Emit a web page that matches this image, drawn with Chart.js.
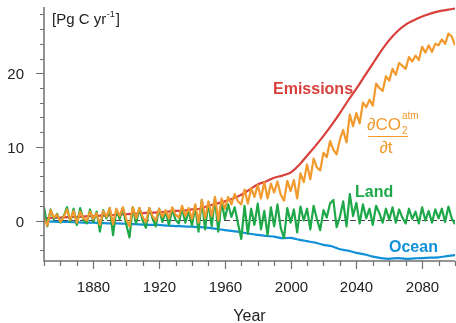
<!DOCTYPE html>
<html>
<head>
<meta charset="utf-8">
<script src="https://cdn.jsdelivr.net/npm/chart.js@4.4.1/dist/chart.umd.min.js"></script>
<style>
  body { margin: 0; background: #fff; }
  canvas { display: block; }
</style>
</head>
<body>
<canvas id="myChart" width="456" height="323"></canvas>
<script>
// Yearly grids: noisy series every 2 years, smooth series every 5 years
var years2 = [];
for (var y = 1850; y <= 2100; y += 2) years2.push(y);
var years5 = [];
for (var y5 = 1850; y5 <= 2100; y5 += 5) years5.push(y5);

// Fossil + land-use emissions [Pg C/yr]
var emissions = [
  0.3, 0.35, 0.4, 0.45, 0.5, 0.55, 0.6, 0.65, 0.7, 0.8,
  0.85, 0.95, 1.0, 1.05, 1.1, 1.2, 1.3, 1.35, 1.5, 1.6,
  2.0, 2.3, 2.6, 3.0, 3.5, 4.2, 4.9, 5.3, 5.8, 6.1,
  6.5, 7.5, 8.8, 10.1, 11.5, 13.0, 14.6, 16.3, 17.9, 19.6,
  21.3, 23.0, 24.5, 25.7, 26.6, 27.2, 27.7, 28.1, 28.4, 28.6, 28.8
];

// Ocean flux
var ocean = [
  -0.1, -0.15, -0.2, -0.2, -0.25, -0.3, -0.3, -0.35, -0.4, -0.4,
  -0.45, -0.5, -0.55, -0.6, -0.6, -0.7, -0.75, -0.8, -0.85, -0.9,
  -1.0, -1.15, -1.3, -1.45, -1.6, -1.8, -1.95, -2.1, -2.2, -2.4,
  -2.35, -2.6, -2.8, -3.0, -3.3, -3.5, -3.9, -4.1, -4.4, -4.6,
  -4.9, -5.1, -5.2, -5.1, -5.2, -5.15, -5.1, -5.05, -5.0, -4.85, -4.7
];

// Land flux
var land = [
  1.8, -0.8, 1.5, 0.2, 0.9,
  -0.3, 0.6, 1.8, -0.2, 1.6,
  -0.6, 1.7, 0.1, -0.4, 1.5,
  -0.2, 1.2, -1.5, 1.4, 0.3,
  1.7, -2.0, 1.5, 0.2, 1.7,
  -0.5, -2.3, 1.8, -0.4, 1.7,
  0.0, -1.0, 1.7, 0.3, -0.8,
  1.6, -0.2, 1.2, -0.6, 1.5,
  0.1, -0.4, 1.7, -0.3, 1.3,
  -0.7, 1.9, -1.5, 2.8, -1.2,
  2.5, -0.8, 3.0, -1.5, 2.6,
  0.2, 2.2, 0.5, 1.8, -0.4,
  -2.5, 2.0, -1.8, 1.6, -0.6,
  2.3, -1.2, 1.3, -2.0, 1.8,
  -0.8, 2.2, -1.0, -2.4, 1.7,
  -0.3, 1.5, -1.6, 1.9, 0.0,
  1.6, -1.2, 2.0, 0.2, -1.3,
  1.4, 0.4, 2.3, 2.8, -0.9,
  0.5, 2.6, -0.8, 3.6, 0.6,
  2.4, -0.4, 2.2, 0.3, 1.6,
  -0.6, 2.0, 1.0, -0.3, 1.6,
  0.1, 1.8, -0.3, 1.5, 0.4,
  -0.4, 1.6, 0.2, 1.2, -0.4,
  1.8, 0.0, 1.3, -0.3, 1.5,
  0.3, 1.6, -0.2, 1.9, 0.3,
  -0.5
];

// Atmospheric CO2 growth rate
var atmGrowth = [
  0.3, -0.7, 1.4, 0.4, 0.8,
  -0.2, 0.5, 1.5, 0.1, 1.3,
  -0.3, 1.2, 0.3, 0.0, 1.2,
  0.2, 1.0, -0.6, 1.3, 0.5,
  1.7, -0.5, 1.6, 0.6, 1.8,
  0.2, -0.8, 1.8, 0.3, 1.7,
  0.5, -0.2, 1.7, 0.6, 0.0,
  1.6, 0.5, 1.4, 0.3, 1.8,
  0.8, 0.4, 2.0, 0.6, 1.7,
  0.2, 2.2, -0.3, 2.8, 0.3,
  2.6, 0.6, 3.2, 0.0, 3.0,
  1.6, 3.2, 2.2, 3.6, 2.6,
  2.2, 4.2, 2.3, 4.4, 3.2,
  4.8, 3.0, 5.2, 3.0, 5.0,
  3.8, 5.3, 3.5, 2.7, 5.4,
  4.0, 5.5, 3.0, 6.4, 5.2,
  7.6, 5.6, 8.4, 7.2, 6.8,
  9.2, 8.6, 10.8, 9.6, 9.0,
  11.0, 12.3, 10.6, 14.4, 12.8,
  14.6, 13.2, 16.0, 15.4, 16.4,
  15.6, 18.6, 18.0, 17.6, 19.6,
  19.0, 20.6, 19.8, 21.4, 21.0,
  20.6, 22.2, 21.6, 22.4, 21.8,
  23.6, 22.8, 23.8, 22.9, 24.0,
  23.8, 24.6, 24.0, 25.4, 25.0,
  23.8
];

// Axis ticks
var xMajorTicks = [1880, 1920, 1960, 2000, 2040, 2080];
var yMajorTicks = [0, 10, 20];

var RED = '#d8403b', ORANGE = '#f29a2e', GREEN = '#1ea84a', BLUE = '#1090d8';
var AXIS = '#707070';
var FONT = '"Liberation Sans", Arial, sans-serif';

function toPoints(xs, ys) {
  return xs.map(function (x, i) { return { x: x, y: ys[i] }; });
}

// Axes, tick marks, zero line and series labels
const decorPlugin = {
  id: 'decorPlugin',
  beforeDatasetsDraw(chart) {
    const ctx = chart.ctx, a = chart.chartArea;
    const y0 = chart.scales.y.getPixelForValue(0);
    ctx.save();
    ctx.strokeStyle = '#444';
    ctx.lineWidth = 1;
    ctx.setLineDash([6, 3]);
    ctx.beginPath();
    ctx.moveTo(a.left, y0);
    ctx.lineTo(a.right, y0);
    ctx.stroke();
    ctx.restore();
  },
  afterDraw(chart) {
    const ctx = chart.ctx, a = chart.chartArea;
    const xs = chart.scales.x, ys = chart.scales.y;
    ctx.save();
    ctx.strokeStyle = AXIS;
    ctx.lineWidth = 1.5;
    ctx.beginPath();
    ctx.moveTo(a.left, a.top);
    ctx.lineTo(a.left, a.bottom);
    ctx.lineTo(a.right, a.bottom);
    ctx.stroke();

    // tick marks and tick labels
    ctx.fillStyle = '#222';
    ctx.font = '15px ' + FONT;
    ctx.lineWidth = 1.2;
    ctx.beginPath();
    ctx.textAlign = 'right';
    ctx.textBaseline = 'middle';
    for (var v = -4; v <= 28; v += 2) {
      var py = Math.round(ys.getPixelForValue(v)) + 0.5;
      var major = yMajorTicks.indexOf(v) >= 0;
      ctx.moveTo(a.left - (major ? 8 : 4), py);
      ctx.lineTo(a.left, py);
      if (major) ctx.fillText(String(v), a.left - 20, py + 1);
    }
    ctx.textAlign = 'center';
    ctx.textBaseline = 'alphabetic';
    for (var yr = 1850; yr <= 2100; yr += 10) {
      var px = Math.round(xs.getPixelForValue(yr)) + 0.5;
      var majorX = xMajorTicks.indexOf(yr) >= 0;
      ctx.moveTo(px, a.bottom);
      ctx.lineTo(px, a.bottom + (majorX ? 8 : 5));
      if (majorX) ctx.fillText(String(yr), px, a.bottom + 31);
    }
    ctx.stroke();

    // unit label
    ctx.textAlign = 'left';
    ctx.font = '15px ' + FONT;
    var t = '[Pg C yr';
    ctx.fillText(t, 52, 24);
    var w = ctx.measureText(t).width;
    ctx.font = '9px ' + FONT;
    ctx.fillText('-1', 52 + w + 0.5, 17);
    var w2 = ctx.measureText('-1').width;
    ctx.font = '15px ' + FONT;
    ctx.fillText(']', 52 + w + w2 + 1.5, 24);

    // axis title
    ctx.font = '16px ' + FONT;
    ctx.textAlign = 'center';
    ctx.fillText('Year', (a.left + a.right) / 2, 321);

    // series labels
    ctx.font = 'bold 16px ' + FONT;
    ctx.textAlign = 'left';
    ctx.fillStyle = RED;
    ctx.fillText('Emissions', 273, 94);
    ctx.fillStyle = GREEN;
    ctx.fillText('Land', 355, 197);
    ctx.fillStyle = BLUE;
    ctx.fillText('Ocean', 389, 252);

    ctx.fillStyle = ORANGE;
    ctx.strokeStyle = ORANGE;
    ctx.font = '17px ' + FONT;
    ctx.fillText('\u2202CO', 367, 130);
    var wc = ctx.measureText('\u2202CO').width;
    ctx.font = '10px ' + FONT;
    ctx.fillText('2', 367 + wc + 1, 134);
    ctx.fillText('atm', 367 + wc + 1, 119);
    ctx.lineWidth = 1.2;
    ctx.beginPath();
    ctx.moveTo(368, 136.5);
    ctx.lineTo(408, 136.5);
    ctx.stroke();
    ctx.font = '17px ' + FONT;
    ctx.textAlign = 'center';
    ctx.fillText('\u2202t', 386, 153);
    ctx.restore();
  }
};

var ctx = document.getElementById('myChart').getContext('2d');

var myChart = new Chart(ctx, {
  type: 'line',
  data: {
    datasets: [
      { label: 'dCO2/dt', data: toPoints(years2, atmGrowth), borderColor: ORANGE, borderWidth: 2.2, tension: 0 },
      { label: 'Land', data: toPoints(years2, land), borderColor: GREEN, borderWidth: 2.2, tension: 0 },
      { label: 'Emissions', data: toPoints(years5, emissions), borderColor: RED, borderWidth: 2.2, tension: 0.3 },
      { label: 'Ocean', data: toPoints(years5, ocean), borderColor: BLUE, borderWidth: 2.2, tension: 0.2 }
    ]
  },
  options: {
    responsive: false,
    animation: false,
    events: [],
    layout: { padding: { top: 7, right: 1, left: 44, bottom: 62 } },
    elements: { point: { radius: 0 }, line: { fill: false, borderJoinStyle: 'round' } },
    scales: {
      x: { type: 'linear', min: 1850, max: 2100, display: false },
      y: { min: -5.5, max: 29, display: false }
    },
    plugins: {
      legend: { display: false },
      tooltip: { enabled: false }
    }
  },
  plugins: [decorPlugin]
});
</script>
</body>
</html>
